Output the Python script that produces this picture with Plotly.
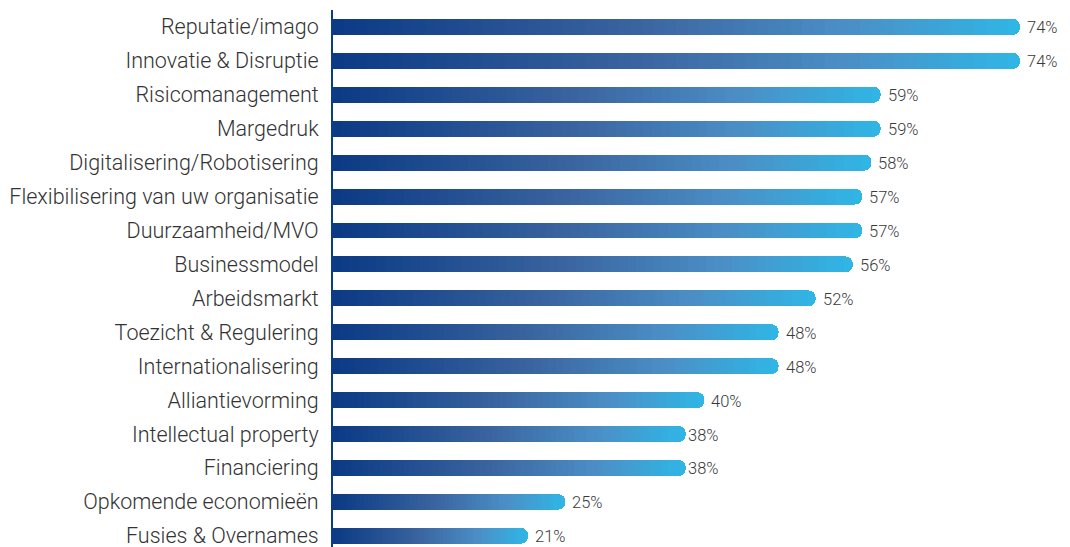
import plotly.graph_objects as go
import numpy as np
from plotly.colors import sample_colorscale

categories = [
    "Reputatie/imago", "Innovatie & Disruptie", "Risicomanagement", "Margedruk",
    "Digitalisering/Robotisering", "Flexibilisering van uw organisatie",
    "Duurzaamheid/MVO", "Businessmodel", "Arbeidsmarkt", "Toezicht & Regulering",
    "Internationalisering", "Alliantievorming", "Intellectual property",
    "Financiering", "Opkomende economieën", "Fusies & Overnames",
]
values = [74, 74, 59, 59, 58, 57, 57, 56, 52, 48, 48, 40, 38, 38, 25, 21]
value_labels = [f"{v}%" for v in values]

tight_labels = {"Intellectual property", "Financiering"}

gradient = [
    [0.0, "#0b3a84"],
    [0.45, "#3b65a0"],
    [0.75, "#4b8fc6"],
    [1.0, "#2fb6e6"],
]

N = 60
seg_colors = sample_colorscale(gradient, [(i + 0.5) / N for i in range(N)])

fig = go.Figure()
for i in range(N):
    fig.add_trace(go.Bar(
        y=categories,
        x=[v / N for v in values],
        orientation="h",
        marker=dict(color=seg_colors[i], line=dict(width=0),
                    cornerradius=8 if i == 0 else None),
        hoverinfo="skip",
        showlegend=False,
    ))

for c, v, t in zip(categories, values, value_labels):
    fig.add_annotation(
        x=v, y=c, text=t, showarrow=False, xanchor="left", yanchor="middle",
        xshift=0 if c in tight_labels else 5, yshift=-1,
        font=dict(family="Roboto", size=16.5, color="#3a3a3a", weight=300),
    )

fig.update_layout(
    width=1070, height=547,
    barmode="stack", bargap=0.53,
    margin=dict(l=333, r=13, t=10, b=0),
    plot_bgcolor="white", paper_bgcolor="white",
    xaxis=dict(range=[0, 78], visible=False, showgrid=False, zeroline=False),
    yaxis=dict(
        type="category", categoryorder="array", categoryarray=categories,
        range=[15.33, -0.5], showgrid=False, zeroline=False,
        showline=True, linecolor="#0c3c85", linewidth=2,
        ticks="", ticklabelstandoff=8,
        tickfont=dict(family="Roboto", size=21.5, color="#333333", weight=300),
    ),
)

fig.write_html("out.html")
